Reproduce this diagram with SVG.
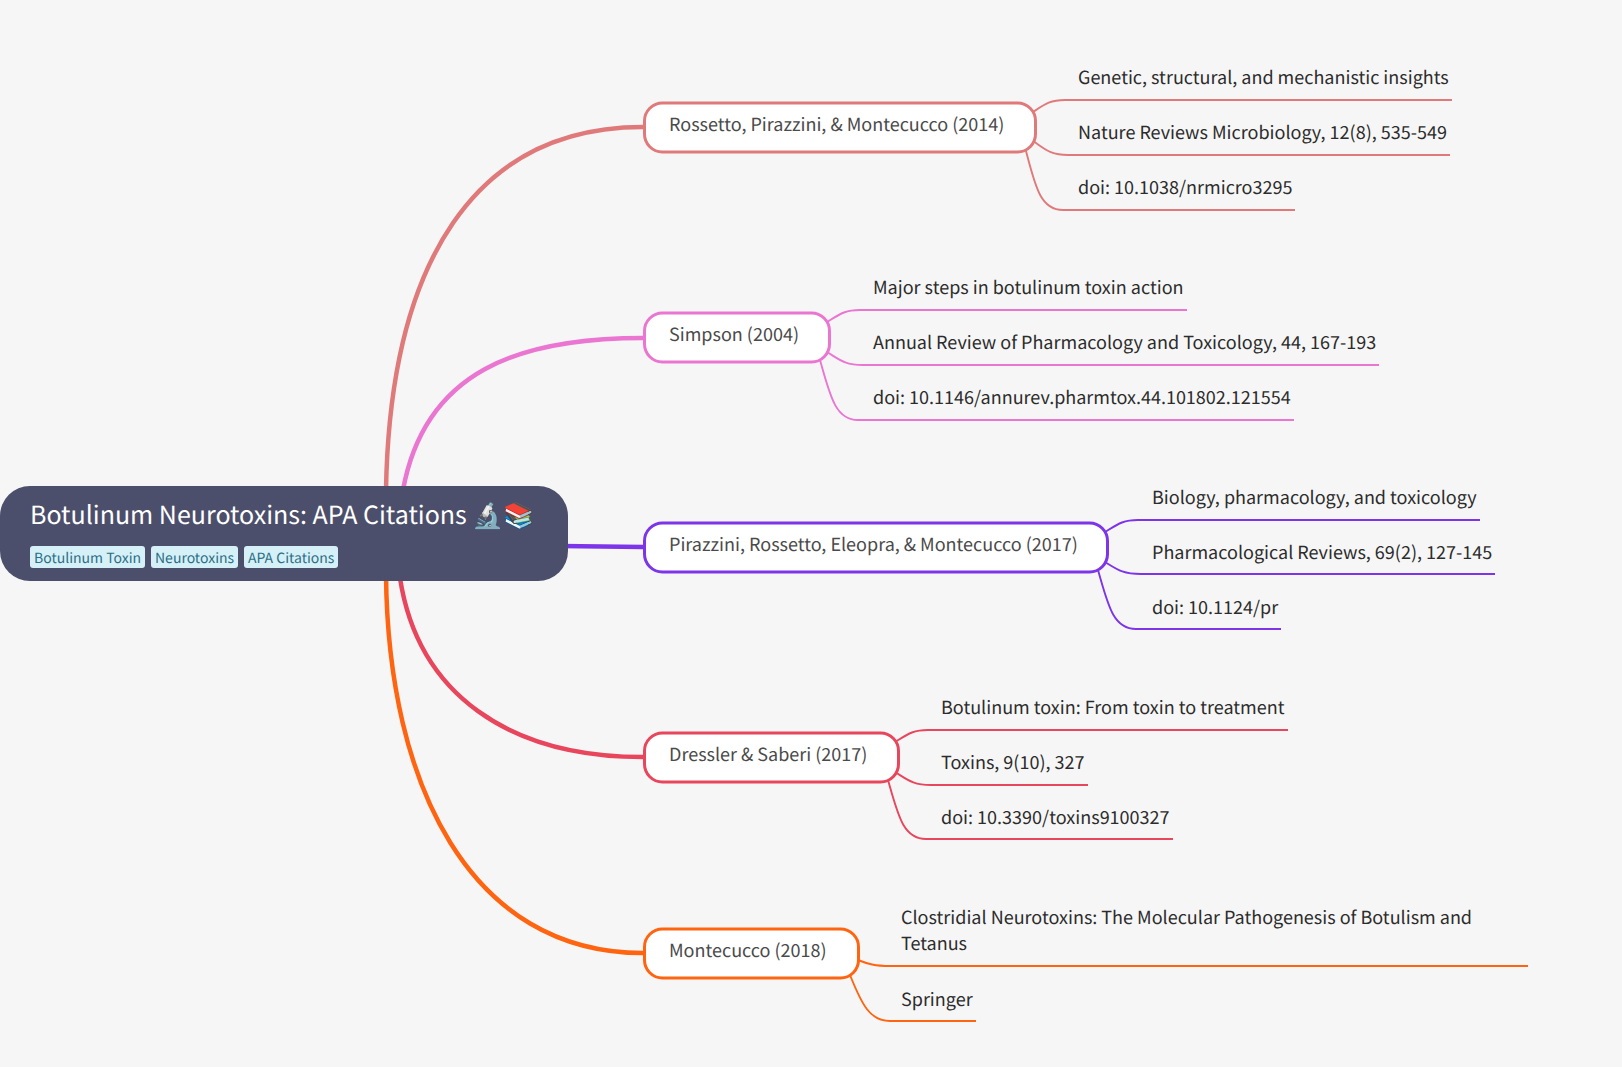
<svg xmlns="http://www.w3.org/2000/svg" width="1622" height="1067" viewBox="0 0 1622 1067">
<style>
text{font-family:"Noto Sans CJK SC","Noto Sans",sans-serif;text-rendering:geometricPrecision}
.n{fill:#fff;stroke-width:3}
.m{font-size:18px;fill:#4a4a4a}
.l{font-size:18px;fill:#2c2c2c}
.t{font-size:14px;fill:#2a6f85}
.tag{fill:#d6f0f8}
.c{fill:none}
.b{stroke-width:4.5}
.s{stroke-width:1.9}
</style>
<rect width="1622" height="1067" fill="#f6f6f6"/>
<g id="connectors" class="c">
<path class="c b" stroke="#e07a7a" d="M643 127C475 127 390 262 386 490"/>
<path class="c b" stroke="#ea76d2" d="M643 338C520 338 425 370 403 490"/>
<path class="c b" stroke="#7d35ea" d="M560 546L643 547"/>
<path class="c b" stroke="#e8465c" d="M643 757C510 757 418 695 400 578"/>
<path class="c b" stroke="#ff6410" d="M643 953C470 953 388 785 386 575"/>
<g stroke="#e07a7a"><path class="c s" d="M1033 112C1045 104 1050 100 1065 100H1452"/><path class="c s" d="M1033 141C1045 149 1050 155 1068 155H1450"/><path class="c s" d="M1026 151C1035 185 1040 210 1063 210H1295"/></g>
<g stroke="#ea76d2"><path class="c s" d="M827 322C840 314 845 310 860 310H1187"/><path class="c s" d="M827 352C840 360 845 365 863 365H1379"/><path class="c s" d="M820 360C830 395 835 420 858 420H1294"/></g>
<g stroke="#7d35ea"><path class="c s" d="M1105 532C1118 524 1123 520 1138 520H1480"/><path class="c s" d="M1105 562C1118 570 1123 574 1141 574H1495"/><path class="c s" d="M1098 570C1108 605 1113 629 1136 629H1281"/></g>
<g stroke="#e8465c"><path class="c s" d="M895 742C908 734 913 730 928 730H1288"/><path class="c s" d="M895 772C908 780 913 785 931 785H1088"/><path class="c s" d="M888 780C898 815 903 839 926 839H1173"/></g>
<g stroke="#ff6410"><path class="c s" d="M858 960C868 964 875 966 890 966H1528"/><path class="c s" d="M850 975C862 1005 870 1021 890 1021H976"/></g>
</g>
<g id="root"><rect x="0" y="486" width="568" height="95" rx="30" fill="#4c4f6b"/>
<text x="30" y="524" font-size="25" fill="#fff">Botulinum Neurotoxins: APA Citations 🔬📚</text>
<rect class="tag" x="30" y="546" width="115" height="22" rx="3"/><text class="t" x="34" y="563">Botulinum Toxin</text>
<rect class="tag" x="151" y="546" width="87" height="22" rx="3"/><text class="t" x="155" y="563">Neurotoxins</text>
<rect class="tag" x="244" y="546" width="94" height="22" rx="3"/><text class="t" x="248" y="563">APA Citations</text></g>
<g id="n1"><rect class="n" stroke="#e07a7a" x="644.5" y="103" width="391" height="49" rx="18"/><text class="m" x="669" y="131">Rossetto, Pirazzini, &amp; Montecucco (2014)</text>
<text class="l" x="1078" y="84">Genetic, structural, and mechanistic insights</text><text class="l" x="1078" y="139">Nature Reviews Microbiology, 12(8), 535-549</text><text class="l" x="1078" y="194">doi: 10.1038/nrmicro3295</text></g>
<g id="n2"><rect class="n" stroke="#ea76d2" x="644.5" y="313" width="185" height="49" rx="18"/><text class="m" x="669" y="341">Simpson (2004)</text>
<text class="l" x="873" y="294">Major steps in botulinum toxin action</text><text class="l" x="873" y="349">Annual Review of Pharmacology and Toxicology, 44, 167-193</text><text class="l" x="873" y="404">doi: 10.1146/annurev.pharmtox.44.101802.121554</text></g>
<g id="n3"><rect class="n" stroke="#7d35ea" x="644.5" y="523" width="463" height="49" rx="18"/><text class="m" x="669" y="551">Pirazzini, Rossetto, Eleopra, &amp; Montecucco (2017)</text>
<text class="l" x="1152" y="504">Biology, pharmacology, and toxicology</text><text class="l" x="1152" y="559">Pharmacological Reviews, 69(2), 127-145</text><text class="l" x="1152" y="614">doi: 10.1124/pr</text></g>
<g id="n4"><rect class="n" stroke="#e8465c" x="644.5" y="733" width="254" height="49" rx="18"/><text class="m" x="669" y="761">Dressler &amp; Saberi (2017)</text>
<text class="l" x="941" y="714">Botulinum toxin: From toxin to treatment</text><text class="l" x="941" y="769">Toxins, 9(10), 327</text><text class="l" x="941" y="824">doi: 10.3390/toxins9100327</text></g>
<g id="n5"><rect class="n" stroke="#ff6410" x="644.5" y="929" width="214" height="49" rx="18"/><text class="m" x="669" y="957">Montecucco (2018)</text>
<text class="l" x="901" y="924">Clostridial Neurotoxins: The Molecular Pathogenesis of Botulism and</text><text class="l" x="901" y="950">Tetanus</text><text class="l" x="901" y="1006">Springer</text></g>
</svg>
